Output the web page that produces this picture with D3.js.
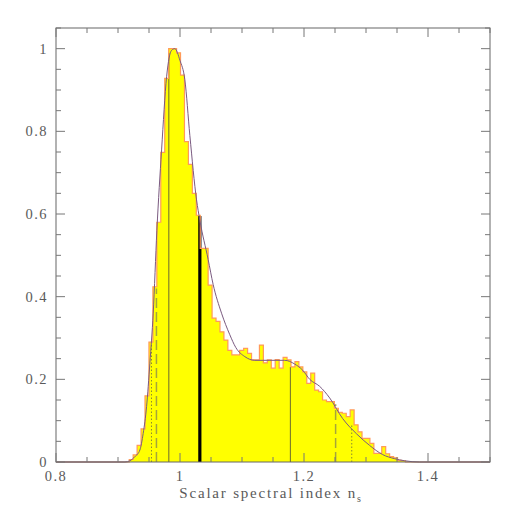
<!DOCTYPE html>
<html>
<head>
<meta charset="utf-8">
<script src="https://cdn.jsdelivr.net/npm/d3@7"></script>
<style>
body { margin: 0; background: #fff; }
text { font-family: "Liberation Serif", serif; fill: #5a5a5a; }
</style>
</head>
<body>
<div id="chart"></div>
<script>
// histogram of samples (normalised to peak = 1)
var binStart = 0.9181,
    binWidth = 0.006364;
var binHeights = [
  0.006, 0.017, 0.04, 0.08, 0.16, 0.29, 0.424, 0.58, 0.749, 0.928,
  1.0, 1.0, 0.99, 0.936, 0.775, 0.72, 0.65, 0.597, 0.517, 0.517,
  0.428, 0.348, 0.34, 0.315, 0.295, 0.27, 0.259, 0.259, 0.27, 0.275,
  0.263, 0.247, 0.247, 0.283, 0.24, 0.247, 0.227, 0.248, 0.227, 0.253,
  0.247, 0.23, 0.243, 0.23, 0.218, 0.19, 0.215, 0.174, 0.17, 0.15,
  0.146, 0.146, 0.13, 0.12, 0.118, 0.11, 0.126, 0.09, 0.073, 0.057,
  0.057, 0.045, 0.021, 0.021, 0.037, 0.02, 0.013, 0.01, 0.004, 0.003
];

// smoothed likelihood curve
var curveX = [0.8, 0.9112, 0.9192, 0.9273, 0.9353, 0.9406, 0.9461, 0.9514, 0.9568, 0.9627,
  0.9703, 0.9784, 0.9864, 0.9917, 0.9998, 1.0078, 1.0159, 1.0267, 1.032, 1.0454,
  1.0534, 1.067, 1.0803, 1.09, 1.1045, 1.1206, 1.1448, 1.1689, 1.185, 1.1979,
  1.2092, 1.2253, 1.2414, 1.2624, 1.2849, 1.3059, 1.3268, 1.3461, 1.3623, 1.3864, 1.5];
var curveY = [0, 0, 0.003, 0.013, 0.029, 0.069, 0.134, 0.239, 0.36, 0.56,
  0.755, 0.932, 0.996, 1.0, 0.972, 0.925, 0.79, 0.634, 0.585, 0.49,
  0.43, 0.36, 0.308, 0.277, 0.255, 0.246, 0.246, 0.246, 0.237, 0.222,
  0.2, 0.183, 0.155, 0.105, 0.068, 0.04, 0.018, 0.008, 0.003, 0, 0];

// vertical marker lines: position, height, style
var markerX     = [0.954, 0.962, 0.982, 1.032, 1.178, 1.251, 1.277];
var markerTop   = [0.287, 0.42, 0.99, 0.595, 0.23, 0.14, 0.092];
var markerStyle = ["dot", "dash", "solid", "thick", "solid", "dash", "dot"];

var xTickLabels = [0.8, 1, 1.2, 1.4];
var yTickLabels = [0, 0.2, 0.4, 0.6, 0.8, 1];

var width = 518, height = 518;
var plotL = 56, plotR = 490, plotT = 28, plotB = 462;

var svg = d3.select("#chart").append("svg")
    .attr("width", width)
    .attr("height", height);

var x = d3.scaleLinear().domain([0.8, 1.5]).range([plotL, plotR]);
var y = d3.scaleLinear().domain([0, 1.05]).range([plotB, plotT]);

// step points for histogram
var steps = binHeights.map(function(h, i) { return {x: binStart + i * binWidth, y: h}; });
steps.push({x: binStart + binHeights.length * binWidth, y: 0});

var area = d3.area()
    .x(function(d) { return x(d.x); })
    .y0(y(0))
    .y1(function(d) { return y(d.y); })
    .curve(d3.curveStepAfter);

svg.append("path")
    .datum(steps)
    .attr("d", area)
    .attr("fill", "#ffff00");

// marker lines
markerX.forEach(function(v, i) {
  var st = markerStyle[i];
  var ln = svg.append("line")
      .attr("x1", x(v)).attr("x2", x(v))
      .attr("y1", y(0)).attr("y2", y(markerTop[i]));
  if (st == "thick") {
    ln.attr("stroke", "#000").attr("stroke-width", 3.2);
  } else if (st == "solid") {
    ln.attr("stroke", "#6b6b30").attr("stroke-width", 1);
  } else if (st == "dash") {
    ln.attr("stroke", "#a5a53a").attr("stroke-width", 1.5).attr("stroke-dasharray", "10,4");
  } else {
    ln.attr("stroke", "#8a8a30").attr("stroke-width", 1).attr("stroke-dasharray", "1.5,2");
  }
});

// histogram outline incl. baseline across whole range
var outline = [{x: 0.8, y: 0}].concat(steps).concat([{x: 1.5, y: 0}]);
var stepLine = d3.line()
    .x(function(d) { return x(d.x); })
    .y(function(d) { return y(d.y); })
    .curve(d3.curveStepAfter);

svg.append("path")
    .datum(outline)
    .attr("d", stepLine)
    .attr("fill", "none")
    .attr("stroke", "#ff9a5a")
    .attr("stroke-width", 1.2);

// smooth curve
var smooth = d3.line()
    .x(function(d, i) { return x(curveX[i]); })
    .y(function(d) { return y(d); })
    .curve(d3.curveMonotoneX);

svg.append("path")
    .datum(curveY)
    .attr("d", smooth)
    .attr("fill", "none")
    .attr("stroke", "#7a5a80")
    .attr("stroke-width", 1);

// frame
svg.append("rect")
    .attr("x", plotL).attr("y", plotT)
    .attr("width", plotR - plotL).attr("height", plotB - plotT)
    .attr("fill", "none")
    .attr("stroke", "#666")
    .attr("stroke-width", 1);

// ticks on all four sides, pointing inward
var axisG = svg.append("g").attr("stroke", "#777").attr("stroke-width", 1);
d3.range(0, 15).forEach(function(i) {
  var v = 0.8 + i * 0.05;
  var major = (i % 4 == 0);
  var len = major ? 9 : 5;
  var px = x(v);
  axisG.append("line").attr("x1", px).attr("x2", px).attr("y1", plotB).attr("y2", plotB - len);
  axisG.append("line").attr("x1", px).attr("x2", px).attr("y1", plotT).attr("y2", plotT + len);
});
d3.range(0, 22).forEach(function(i) {
  var v = i * 0.05;
  var major = (i % 4 == 0);
  var len = major ? 9 : 5;
  var py = y(v);
  axisG.append("line").attr("x1", plotL).attr("x2", plotL + len).attr("y1", py).attr("y2", py);
  axisG.append("line").attr("x1", plotR).attr("x2", plotR - len).attr("y1", py).attr("y2", py);
});

// tick labels
svg.selectAll(".xl")
    .data(xTickLabels)
    .enter().append("text")
    .attr("x", function(d) { return x(d); })
    .attr("y", 481)
    .attr("text-anchor", "middle")
    .attr("font-size", 14.5)
    .attr("letter-spacing", 1.5)
    .text(function(d) { return d; });

svg.selectAll(".yl")
    .data(yTickLabels)
    .enter().append("text")
    .attr("x", 48)
    .attr("y", function(d) { return y(d) + 5; })
    .attr("text-anchor", "end")
    .attr("font-size", 14.5)
    .attr("letter-spacing", 1.5)
    .text(function(d) { return d; });

// axis title
var title = svg.append("text")
    .attr("x", 271)
    .attr("y", 498)
    .attr("text-anchor", "middle")
    .attr("font-size", 15)
    .attr("letter-spacing", 1.8);
title.append("tspan").text("Scalar spectral index n");
title.append("tspan").attr("font-size", 10).attr("dy", 4).text("s");
</script>
</body>
</html>
